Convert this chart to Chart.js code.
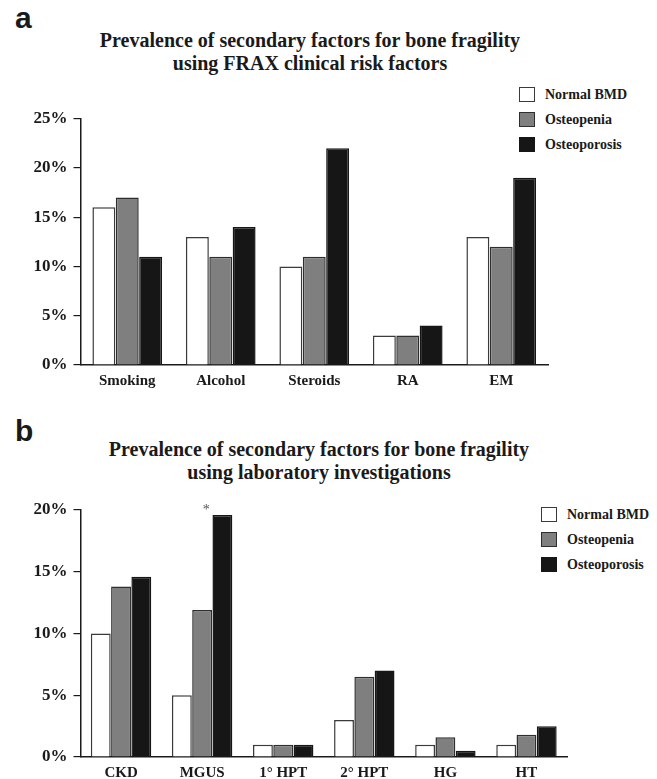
<!DOCTYPE html>
<html>
<head>
<meta charset="utf-8">
<script src="https://cdn.jsdelivr.net/npm/chart.js@4.4.1/dist/chart.umd.min.js"></script>
<style>
  body { margin: 0; background: #fff; width: 657px; height: 779px; overflow: hidden; position: relative;
         font-family: "Liberation Serif", "Times New Roman", serif; color: #1a1a1a; }
  .box { position: absolute; left: 0; width: 657px; }
  .tag { position: absolute; left: 15px; font: bold 30px "Liberation Sans", Arial, sans-serif; line-height: 34px; }
  .title { position: absolute; width: 620px; text-align: center; font-weight: bold; font-size: 20px; line-height: 23px; }
  .legend { position: absolute; font-weight: bold; font-size: 14px; }
  .legend .row { height: 25px; display: flex; align-items: center; }
  .legend .sw { width: 16px; height: 15px; box-sizing: border-box; border: 1.5px solid #333; margin-right: 10px; }
</style>
</head>
<body>
<div class="tag" style="top:1px">a</div>
<div class="title" style="left:0;top:29px">Prevalence of secondary factors for bone fragility<br>using FRAX clinical risk factors</div>
<div class="legend" id="legendA" style="left:519px;top:82px"></div>
<div class="box" style="top:0;height:400px"><canvas id="chartA"></canvas></div>

<div class="tag" style="top:414px">b</div>
<div class="title" style="left:9px;top:438px">Prevalence of secondary factors for bone fragility<br>using laboratory investigations</div>
<div class="legend" id="legendB" style="left:541px;top:502px"></div>
<div class="box" style="top:400px;height:379px"><canvas id="chartB"></canvas></div>

<script>
// --- DATA ---
const seriesNames = ['Normal BMD', 'Osteopenia', 'Osteoporosis'];

const catsA = ['Smoking', 'Alcohol', 'Steroids', 'RA', 'EM'];
const normalA = [16, 13, 10, 3, 13];
const osteopeniaA = [17, 11, 11, 3, 12];
const osteoporosisA = [11, 14, 22, 4, 19];
const ticksA = [0, 5, 10, 15, 20, 25];

const catsB = ['CKD', 'MGUS', '1° HPT', '2° HPT', 'HG', 'HT'];
const normalB = [10, 5, 1, 3, 1, 1];
const osteopeniaB = [13.8, 11.9, 1, 6.5, 1.6, 1.8];
const osteoporosisB = [14.6, 19.6, 1, 7, 0.5, 2.5];
const ticksB = [0, 5, 10, 15, 20];

const starsB = ['MGUS'];   // significance marks

// --- STYLE ---
const fills = ['#ffffff', '#7f7f7f', '#161616'];
const edges = ['#3a3a3a', '#2e2e2e', '#161616'];
const ink = '#1a1a1a';
const serif = '"Liberation Serif", "Times New Roman", serif';

Chart.defaults.font.family = serif;
Chart.defaults.font.weight = 'bold';
Chart.defaults.color = ink;

function buildLegend(id) {
    const box = document.getElementById(id);
    seriesNames.forEach((name, i) => {
        box.insertAdjacentHTML('beforeend',
            `<div class="row"><span class="sw" style="background:${fills[i]};border-color:${edges[i]}"></span>${name}</div>`);
    });
}

const starPlugin = {
    id: 'stars',
    afterDatasetsDraw(chart, args, opts) {
        if (!opts.cats) return;
        const ctx = chart.ctx, x = chart.scales.x, y = chart.scales.y;
        ctx.save();
        ctx.fillStyle = '#555';
        ctx.font = '14px ' + serif;
        ctx.textAlign = 'center';
        ctx.textBaseline = 'alphabetic';
        opts.cats.forEach(c => {
            const px = x.getPixelForValue(opts.labels.indexOf(c));
            ctx.fillText('*', px + 4, y.top + 4);
        });
        ctx.restore();
    }
};

function drawChart(canvasId, labels, series, ticks, pad, xHeight, stars) {
    const ctx = document.getElementById(canvasId).getContext('2d');
    return new Chart(ctx, {
        type: 'bar',
        data: {
            labels: labels,
            datasets: series.map((vals, i) => ({
                label: seriesNames[i],
                data: vals,
                backgroundColor: fills[i],
                borderColor: edges[i],
                borderWidth: 1.5,
                borderSkipped: 'start',
                barPercentage: 0.98,
                categoryPercentage: 0.75
            }))
        },
        options: {
            responsive: true,
            maintainAspectRatio: false,
            animation: false,
            layout: { padding: pad },
            plugins: {
                legend: { display: false },
                tooltip: { enabled: false },
                stars: { cats: stars, labels: labels }
            },
            scales: {
                x: {
                    grid: { display: false, drawTicks: false },
                    border: { display: true, color: ink, width: 1.5 },
                    ticks: { font: { size: 15, weight: 'bold' }, color: ink, padding: 7, maxRotation: 0 },
                    afterFit: s => { s.height = xHeight; }
                },
                y: {
                    min: ticks[0],
                    max: ticks[ticks.length - 1],
                    grid: { display: true, drawOnChartArea: false, drawTicks: true, tickLength: 7, color: ink, lineWidth: 1.2 },
                    border: { display: true, color: ink, width: 1.5 },
                    ticks: {
                        stepSize: ticks[1] - ticks[0],
                        font: { size: 17, weight: 'bold' },
                        color: ink,
                        padding: 6,
                        callback: v => v + '%'
                    },
                    afterFit: s => { s.width = 80.5; }
                }
            }
        },
        plugins: [starPlugin]
    });
}

buildLegend('legendA');
buildLegend('legendB');

drawChart('chartA', catsA, [normalA, osteopeniaA, osteoporosisA], ticksA,
    { top: 118.7, right: 109, bottom: 0, left: 0 }, 35, null);
drawChart('chartB', catsB, [normalB, osteopeniaB, osteoporosisB], ticksB,
    { top: 110, right: 90, bottom: 0, left: 0 }, 22, starsB);
</script>
</body>
</html>
